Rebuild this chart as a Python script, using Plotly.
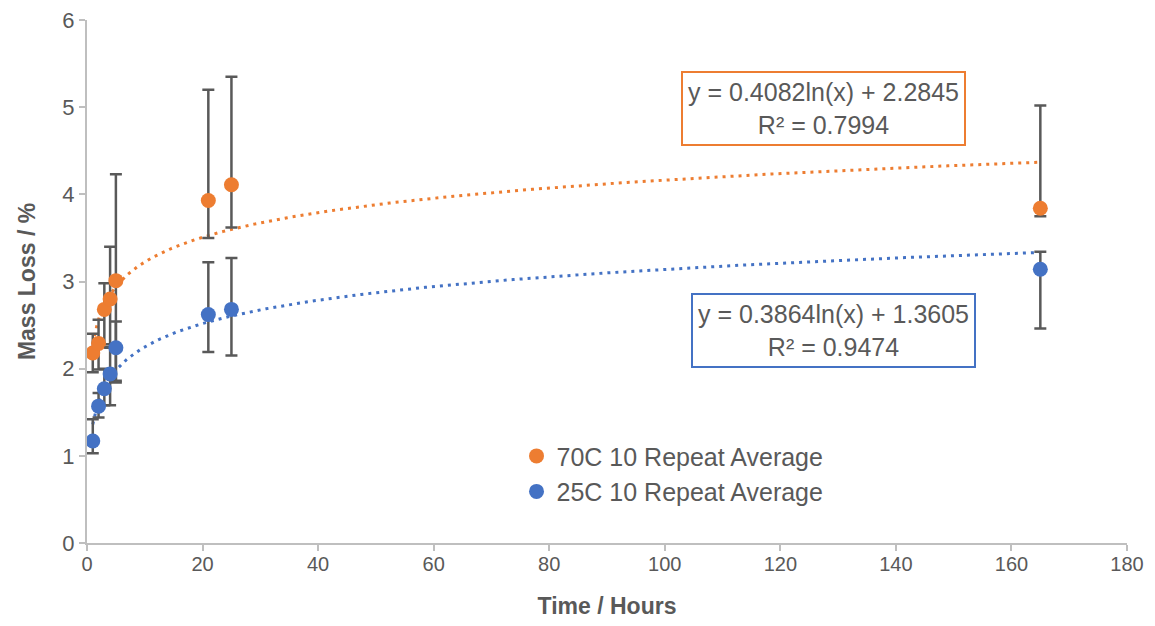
import numpy as np
import plotly.graph_objects as go

# ---- data ----
hours = [1, 2, 3, 4, 5, 21, 25, 165]
mass_70c = [2.18, 2.29, 2.68, 2.80, 3.01, 3.93, 4.11, 3.84]
err_70c_plus = [0.22, 0.27, 0.30, 0.60, 1.22, 1.27, 1.24, 1.18]
err_70c_minus = [0.22, 0.30, 0.40, 0.55, 1.15, 0.43, 0.49, 0.09]
mass_25c = [1.17, 1.57, 1.77, 1.94, 2.24, 2.62, 2.68, 3.14]
err_25c_plus = [0.25, 0.15, 0.23, 0.30, 0.30, 0.60, 0.59, 0.20]
err_25c_minus = [0.14, 0.13, 0.19, 0.36, 0.40, 0.43, 0.53, 0.68]
series_names = ["70C 10 Repeat Average", "25C 10 Repeat Average"]
fit_70c = [0.4082, 2.2845]   # slope, intercept of ln fit
fit_25c = [0.3864, 1.3605]
r2_70c = "0.7994"
r2_25c = "0.9474"
x_ticks = [0, 20, 40, 60, 80, 100, 120, 140, 160, 180]
y_ticks = [0, 1, 2, 3, 4, 5, 6]

ORANGE = "#ED7D31"
BLUE = "#4472C4"
GREY = "#595959"
AXIS = "#BFBFBF"
FONT = "Liberation Sans"

fig = go.Figure()

xt = np.linspace(min(hours), max(hours), 400)
for fit, col in [(fit_70c, ORANGE), (fit_25c, BLUE)]:
    fig.add_trace(go.Scatter(
        x=xt, y=fit[0] * np.log(xt) + fit[1], mode="lines",
        line=dict(color=col, width=3, dash="3px,5px"),
        showlegend=False, hoverinfo="skip"))

for name, ys, ep, em, col in [
    (series_names[0], mass_70c, err_70c_plus, err_70c_minus, ORANGE),
    (series_names[1], mass_25c, err_25c_plus, err_25c_minus, BLUE),
]:
    fig.add_trace(go.Scatter(
        x=hours, y=ys, mode="markers", name=name,
        marker=dict(color=col, size=15),
        error_y=dict(type="data", symmetric=False, array=ep, arrayminus=em,
                     color=GREY, thickness=2.5, width=6)))

fig.add_annotation(
    x=127.5, y=4.98, xref="x", yref="y", showarrow=False,
    text=f"y = {fit_70c[0]:.4f}ln(x) + {fit_70c[1]:.4f}<br>R² = {r2_70c}",
    font=dict(family=FONT, size=25, color=GREY),
    bordercolor=ORANGE, borderwidth=2, borderpad=5, bgcolor="white", align="center")
fig.add_annotation(
    x=129.2, y=2.44, xref="x", yref="y", showarrow=False,
    text=f"y = {fit_25c[0]:.4f}ln(x) + {fit_25c[1]:.4f}<br>R² = {r2_25c}",
    font=dict(family=FONT, size=25, color=GREY),
    bordercolor=BLUE, borderwidth=2, borderpad=5, bgcolor="white", align="center")

fig.update_layout(
    width=1147, height=618,
    margin=dict(l=79, r=28, t=12, b=83),
    paper_bgcolor="white", plot_bgcolor="white",
    font=dict(family=FONT, color=GREY, size=20),
    legend=dict(x=0.413, y=0.21, xanchor="left", yanchor="top",
                bgcolor="rgba(0,0,0,0)", font=dict(family=FONT, size=25, color=GREY),
                itemwidth=30, tracegroupgap=0),
    xaxis=dict(range=[0, 180], tickvals=x_ticks, showgrid=False, zeroline=False,
               showline=True, linecolor=AXIS, linewidth=2, ticks="outside",
               tickcolor=AXIS, ticklen=6, tickwidth=2, automargin=False,
               ticklabeloverflow="allow", ticklabelstandoff=-4,
               tickfont=dict(family=FONT, size=20, color=GREY),
               title=dict(text="<b>Time / Hours</b>", font=dict(family=FONT, size=23, color=GREY), standoff=24)),
    yaxis=dict(range=[0, 6], tickvals=y_ticks, showgrid=False, zeroline=False,
               showline=True, linecolor=AXIS, linewidth=2, ticks="outside",
               tickcolor=AXIS, ticklen=6, tickwidth=2, automargin=False,
               ticklabeloverflow="allow",
               tickfont=dict(family=FONT, size=22, color=GREY),
               title=dict(text="<b>Mass Loss / %</b>", font=dict(family=FONT, size=23, color=GREY), standoff=20)),
)

fig.write_html("out.html")
